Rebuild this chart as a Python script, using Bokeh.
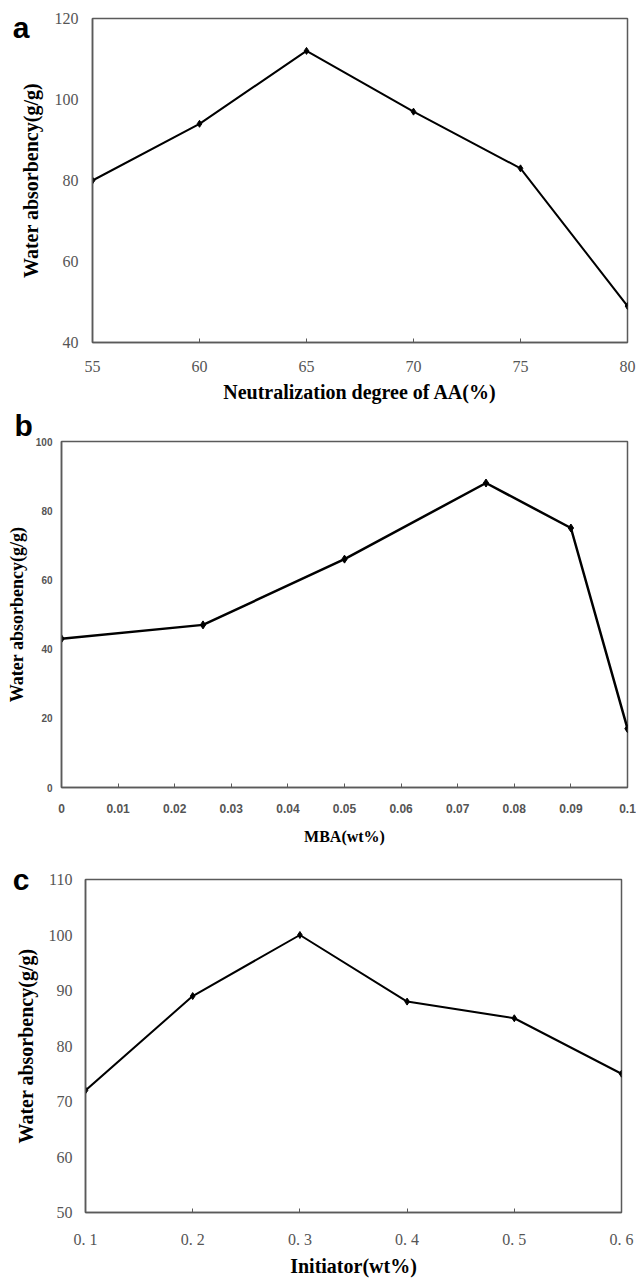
from bokeh.plotting import figure
from bokeh.models import Range1d, FixedTicker, NumeralTickFormatter, LinearAxis, Title
from bokeh.embed import file_html
from bokeh.resources import INLINE

# ---- data ----
neut_x = [55, 60, 65, 70, 75, 80]
neut_y = [80, 94, 112, 97, 83, 49]
neut_xticks = [55, 60, 65, 70, 75, 80]
neut_yticks = [40, 60, 80, 100, 120]

mba_x = [0, 0.025, 0.05, 0.075, 0.09, 0.1]
mba_y = [43, 47, 66, 88, 75, 17]
mba_xticks = [0, 0.01, 0.02, 0.03, 0.04, 0.05, 0.06, 0.07, 0.08, 0.09, 0.1]
mba_yticks = [0, 20, 40, 60, 80, 100]

init_x = [0.1, 0.2, 0.3, 0.4, 0.5, 0.6]
init_y = [72, 89, 100, 88, 85, 75]
init_xticks = [0.1, 0.2, 0.3, 0.4, 0.5, 0.6]
init_xlabels = ["0. 1", "0. 2", "0. 3", "0. 4", "0. 5", "0. 6"]
init_yticks = [50, 60, 70, 80, 90, 100, 110]

YTITLE = "Water absorbency(g/g)"
FRAME = "#5a5a5a"
TICKC = "#555555"


def make_fig(h, left, right, top, bottom, xr, yr):
    p = figure(width=636, height=h, output_backend="svg", toolbar_location=None,
               x_range=Range1d(*xr), y_range=Range1d(*yr),
               min_border_left=left, min_border_right=right,
               min_border_top=top, min_border_bottom=bottom)
    p.xgrid.visible = False
    p.ygrid.visible = False
    p.outline_line_color = FRAME
    p.outline_line_width = 1.5
    p.background_fill_color = "white"
    p.border_fill_color = "white"
    for ax in (p.xaxis[0], p.yaxis[0]):
        ax.axis_line_color = FRAME
        ax.axis_line_width = 1.5
        ax.major_tick_line_color = FRAME
        ax.minor_tick_line_color = None
        ax.major_label_text_color = TICKC
        ax.axis_label_text_color = "black"
        ax.axis_label_text_font = "Liberation Serif"
        ax.axis_label_text_font_style = "bold"
    p.xaxis[0].major_tick_in = 4
    p.xaxis[0].major_tick_out = 0
    p.yaxis[0].major_tick_in = 0
    p.yaxis[0].major_tick_out = 0
    return p


def letter_axis(p, txt, frac, standoff):
    # panel letter drawn as the only label of a bare extra axis on the left
    p.extra_y_ranges = {"letter": Range1d(0, 1)}
    ax = LinearAxis(y_range_name="letter", ticker=FixedTicker(ticks=[frac]),
                    major_label_overrides={frac: txt},
                    axis_line_color=None, major_tick_line_color=None,
                    minor_tick_line_color=None, major_tick_in=0, major_tick_out=0,
                    major_label_standoff=standoff,
                    major_label_text_font="Liberation Sans",
                    major_label_text_font_style="bold",
                    major_label_text_font_size="30px",
                    major_label_text_color="black")
    p.add_layout(ax, "left")


# ---- panel a ----
pa = make_fig(406, 92, 9, 18, 64, (55, 80), (40, 120))
pa.line(neut_x, neut_y, line_color="black", line_width=2)
pa.scatter(neut_x, neut_y, marker="diamond", size=7, color="black")
pa.xaxis.ticker = FixedTicker(ticks=neut_xticks)
pa.yaxis.ticker = FixedTicker(ticks=neut_yticks)
pa.xaxis.axis_label = "Neutralization degree of AA(%)"
pa.yaxis.axis_label = YTITLE
for ax in (pa.xaxis[0], pa.yaxis[0]):
    ax.major_label_text_font = "Liberation Serif"
    ax.major_label_text_font_size = "16px"
    ax.axis_label_text_font_size = "20px"
pa.xaxis.major_label_standoff = 18
pa.xaxis.axis_label_standoff = 6
pa.yaxis.major_label_standoff = 14
pa.yaxis.axis_label_standoff = 10
letter_axis(pa, "a", 0.973, -13)

# ---- panel b ----
pb = make_fig(449, 61, 9, 35, 68, (0, 0.1), (0, 100))
pb.line(mba_x, mba_y, line_color="black", line_width=2.5)
pb.scatter(mba_x, mba_y, marker="diamond", size=8, color="black")
pb.xaxis.ticker = FixedTicker(ticks=mba_xticks)
pb.yaxis.ticker = FixedTicker(ticks=mba_yticks)
pb.xaxis.formatter = NumeralTickFormatter(format="0.[00]")
pb.xaxis.axis_label = "MBA(wt%)"
pb.yaxis.axis_label = YTITLE
pb.xaxis.major_label_text_font = "Liberation Sans"
pb.xaxis.major_label_text_font_style = "bold"
pb.xaxis.major_label_text_font_size = "12px"
pb.yaxis.major_label_text_font = "Liberation Sans"
pb.yaxis.major_label_text_font_style = "bold"
pb.yaxis.major_label_text_font_size = "10px"
pb.xaxis.axis_label_text_font_size = "16px"
pb.yaxis.axis_label_text_font_size = "18px"
pb.xaxis.major_label_standoff = 16
pb.xaxis.axis_label_standoff = 12
pb.yaxis.major_label_standoff = 9
pb.yaxis.axis_label_standoff = 6
pb.add_layout(Title(text="b", align="left", offset=-47, standoff=0,
                    text_font="Liberation Sans", text_font_style="bold",
                    text_font_size="30px", text_color="black"), "above")

# ---- panel c ----
pc = make_fig(424, 85, 15, 24, 66, (0.1, 0.6), (50, 110))
pc.line(init_x, init_y, line_color="black", line_width=2)
pc.scatter(init_x, init_y, marker="diamond", size=7, color="black")
pc.xaxis.ticker = FixedTicker(ticks=init_xticks)
pc.yaxis.ticker = FixedTicker(ticks=init_yticks)
pc.xaxis.major_label_overrides = dict(zip(init_xticks, init_xlabels))
pc.xaxis.axis_label = "Initiator(wt%)"
pc.yaxis.axis_label = YTITLE
for ax in (pc.xaxis[0], pc.yaxis[0]):
    ax.major_label_text_font = "Liberation Serif"
    ax.major_label_text_font_size = "16px"
    ax.axis_label_text_font_size = "20px"
pc.xaxis.major_label_standoff = 18
pc.xaxis.axis_label_standoff = 4
pc.yaxis.major_label_standoff = 13
pc.yaxis.axis_label_standoff = 9
letter_axis(pc, "c", 1.0, -18)

open("out.html", "w").write(file_html([pa, pb, pc], INLINE))
